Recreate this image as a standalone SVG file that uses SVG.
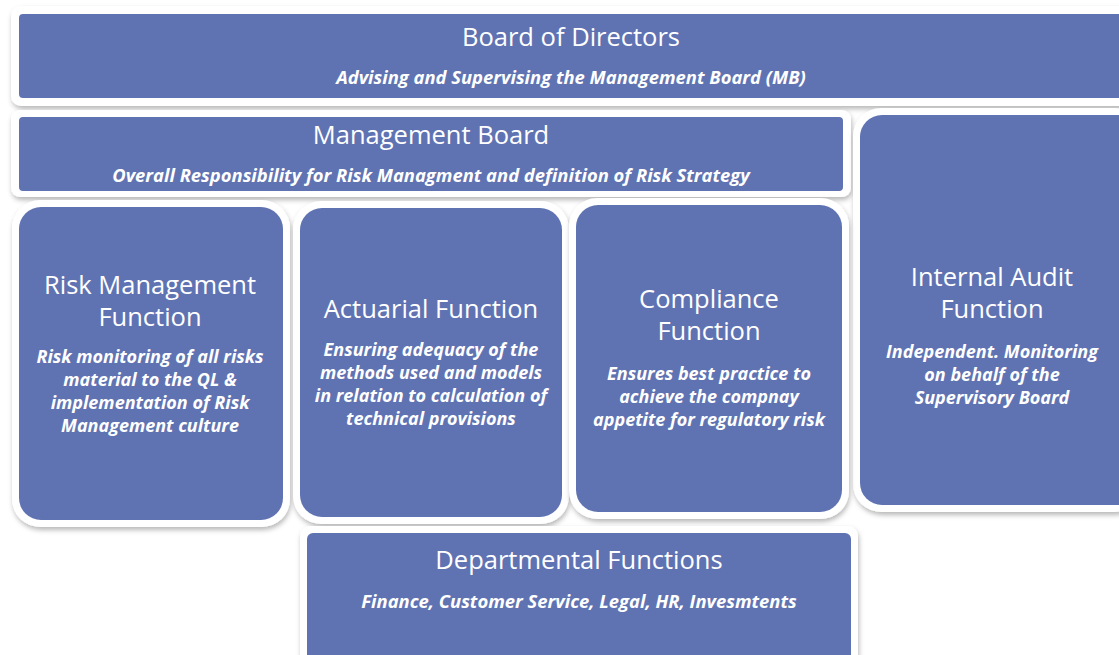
<svg xmlns="http://www.w3.org/2000/svg" width="1119" height="655" viewBox="0 0 1119 655">
  <defs>
    <filter id="shadow" x="-5%" y="-5%" width="110%" height="115%">
      <feDropShadow dx="1" dy="3" stdDeviation="2.5" flood-color="#000" flood-opacity="0.28"/>
    </filter>
  </defs>
  <style>
    .frame { fill: #ffffff; filter: url(#shadow); }
    .box { fill: #5f73b3; }
    .title { font-family: "Open Sans", Lato, "Liberation Sans", sans-serif; font-size: 25.5px; fill: #ffffff; text-anchor: middle; }
    .sub { font-family: "Open Sans", Lato, "Liberation Sans", sans-serif; font-size: 18.4px; font-weight: bold; font-style: italic; fill: #ffffff; text-anchor: middle; }
    .card .sub { font-size: 18px; }
  </style>
  <rect width="1119" height="655" fill="#ffffff"/>

  <g id="board-of-directors">
    <rect class="frame" x="11" y="6" width="1124" height="100" rx="10"/>
    <rect class="box" x="19" y="14" width="1116" height="84" rx="4"/>
    <text class="title" x="571" y="46">Board of Directors</text>
    <text class="sub" x="571" y="84">Advising and Supervising the Management Board (MB)</text>
  </g>

  <g id="management-board">
    <rect class="frame" x="11" y="110" width="840" height="87" rx="9"/>
    <rect class="box" x="19" y="117" width="824" height="74" rx="4"/>
    <text class="title" x="431" y="144">Management Board</text>
    <text class="sub" x="431" y="182">Overall Responsibility for Risk Managment and definition of Risk Strategy</text>
  </g>

  <g id="internal-audit" class="card">
    <rect class="frame" x="853" y="108" width="290" height="404" rx="28"/>
    <rect class="box" x="860" y="115" width="280" height="390" rx="22"/>
    <text class="title" x="992" y="286">Internal Audit</text>
    <text class="title" x="992" y="318">Function</text>
    <text class="sub" x="992" y="358">Independent. Monitoring</text>
    <text class="sub" x="992" y="381">on behalf of the</text>
    <text class="sub" x="992" y="404">Supervisory Board</text>
  </g>

  <g id="risk-management" class="card">
    <rect class="frame" x="12" y="200" width="278" height="327" rx="28"/>
    <rect class="box" x="19" y="207" width="264" height="313" rx="22"/>
    <text class="title" x="150" y="294">Risk Management</text>
    <text class="title" x="150" y="326">Function</text>
    <text class="sub" x="150" y="363">Risk monitoring of all risks</text>
    <text class="sub" x="150" y="386">material to the QL &amp;</text>
    <text class="sub" x="150" y="409">implementation of Risk</text>
    <text class="sub" x="150" y="432">Management culture</text>
  </g>

  <g id="actuarial" class="card">
    <rect class="frame" x="293" y="201" width="276" height="323" rx="28"/>
    <rect class="box" x="300" y="208" width="262" height="309" rx="22"/>
    <text class="title" x="431" y="318">Actuarial Function</text>
    <text class="sub" x="431" y="356">Ensuring adequacy of the</text>
    <text class="sub" x="431" y="379">methods used and models</text>
    <text class="sub" x="431" y="402">in relation to calculation of</text>
    <text class="sub" x="431" y="425">technical provisions</text>
  </g>

  <g id="compliance" class="card">
    <rect class="frame" x="569" y="198" width="280" height="321" rx="28"/>
    <rect class="box" x="576" y="205" width="266" height="307" rx="22"/>
    <text class="title" x="709" y="308">Compliance</text>
    <text class="title" x="709" y="340">Function</text>
    <text class="sub" x="709" y="380">Ensures best practice to</text>
    <text class="sub" x="709" y="403">achieve the compnay</text>
    <text class="sub" x="709" y="426">appetite for regulatory risk</text>
  </g>

  <g id="departmental">
    <rect class="frame" x="300" y="526" width="558" height="140" rx="10"/>
    <rect class="box" x="307" y="533" width="544" height="130" rx="6"/>
    <text class="title" x="579" y="569">Departmental Functions</text>
    <text class="sub" x="579" y="608">Finance, Customer Service, Legal, HR, Invesmtents</text>
  </g>

  <g id="connectors"></g>
</svg>
